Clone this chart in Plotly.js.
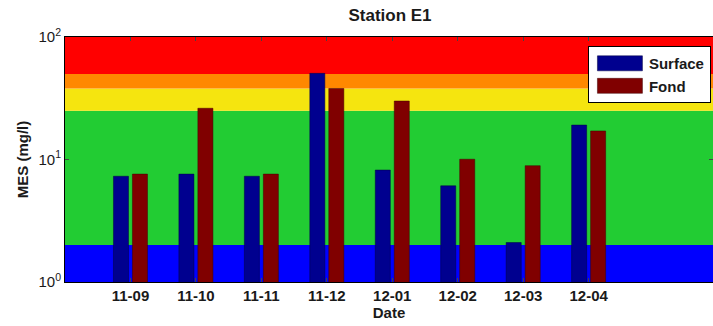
<!DOCTYPE html>
<html><head><meta charset="utf-8">
<script src="https://cdn.plot.ly/plotly-3.0.1.min.js"></script>
<style>body{margin:0;background:#fff}#c{width:713px;height:326px}</style>
</head><body><div id="c"></div>
<script>
const dates = ["11-09","11-10","11-11","11-12","12-01","12-02","12-03","12-04"];
const positions = [1,2,3,4,5,6,7,8];
const surface = [7.3, 7.6, 7.3, 50.5, 8.2, 6.1, 2.1, 19.1];
const fond = [7.6, 26.2, 7.6, 38, 30, 10.05, 8.9, 17.1];
const bandEdges = [1, 2, 25, 38, 50, 100];
const bandColors = ["#0000ff", "#22cc33", "#f5e50f", "#ff8800", "#ff0000"];

const shapes = bandColors.map((c, i) => ({
  type: "rect", xref: "paper", yref: "y", x0: 0, x1: 1,
  y0: bandEdges[i], y1: bandEdges[i+1], fillcolor: c, line: {width: 0}, layer: "below"
}));

const fam = "Liberation Sans, Arial, sans-serif";
const font = {family: fam, size: 15, color: "#1a1a1a", weight: "bold"};
const data = [
  {type: "bar", name: "Surface", x: positions, y: surface, width: 0.23, offset: -0.26,
   marker: {color: "#00008f", line: {color: "#000040", width: 0.5}}},
  {type: "bar", name: "Fond", x: positions, y: fond, width: 0.23, offset: 0.03,
   marker: {color: "#800000", line: {color: "#400000", width: 0.5}}}
];
const layout = {
  width: 713, height: 326,
  margin: {l: 65, r: 0, t: 37, b: 44},
  paper_bgcolor: "#fff", plot_bgcolor: "rgba(0,0,0,0)",
  font: font,
  title: {text: "Station E1", x: 0.547, xanchor: "center", y: 0.955, yanchor: "middle", font: {size: 17, weight: "bold", family: fam, color: "#1a1a1a"}},
  showlegend: true,
  legend: {x: 0.807, y: 0.963, xanchor: "left", yanchor: "top", bgcolor: "#fff", bordercolor: "#000", borderwidth: 1,
           font: {size: 15, weight: "bold", family: fam, color: "#1a1a1a"}, tracegroupgap: 0, itemwidth: 50},
  xaxis: {range: [0, 9.9], tickvals: positions, ticktext: dates, ticks: "inside", ticklen: 4,
          showgrid: false, zeroline: false, showline: true, linecolor: "#000", mirror: "ticks",
          tickfont: {size: 15, weight: "bold", family: fam},
          title: {text: "Date", standoff: 2, font: {size: 15, weight: "bold", family: fam}}},
  yaxis: {type: "log", range: [0, 2], tickvals: [1, 10, 100],
          ticktext: ["10<sup>0</sup>", "10<sup>1</sup>", "10<sup>2</sup>"],
          ticks: "inside", ticklen: 4, showgrid: false, zeroline: false, showline: true,
          linecolor: "#000", mirror: "ticks",
          tickfont: {size: 15, weight: "normal", family: fam},
          title: {text: "MES (mg/l)", standoff: 6, font: {size: 15, weight: "bold", family: fam}}},
  shapes: shapes
};
Plotly.newPlot("c", data, layout, {displayModeBar: false, staticPlot: true}).then(gd => {
  gd.querySelectorAll(".legend .legendpoints path").forEach(p => {
    p.setAttribute("d", "M22.5,7.5H-22.5V-7.5H22.5Z");
    p.setAttribute("transform", "translate(31,0)");
  });
});
</script></body></html>
